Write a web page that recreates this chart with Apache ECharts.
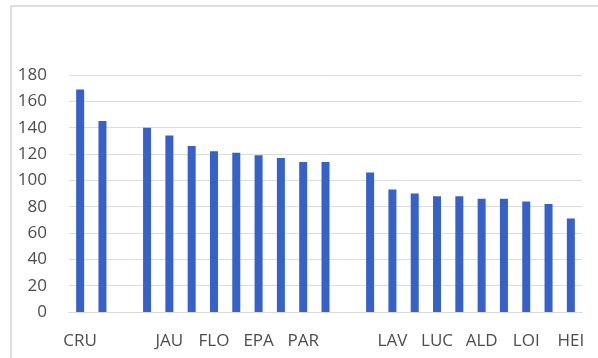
<!DOCTYPE html>
<html>
<head>
<meta charset="utf-8">
<script src="https://cdn.jsdelivr.net/npm/echarts@6/dist/echarts.min.js"></script>
<style>
  html, body { margin: 0; padding: 0; background: #ffffff; }
  #chart { width: 598px; height: 358px; }
</style>
</head>
<body>
<div id="chart"></div>
<script>
// Category codes; every other one is shown on the axis, blanks separate the groups
const categories = ['CRU', 'c1', '', 'c3', 'JAU', 'c5', 'FLO', 'c7', 'EPA', 'c9', 'PAR', 'c11',
                    '', 'c13', 'LAV', 'c15', 'LUC', 'c17', 'ALD', 'c19', 'LOI', 'c21', 'HEI'];
const values = [169, 145, null, 140, 134, 126, 122, 121, 119, 117, 114, 114,
                null, 106, 93, 90, 88, 88, 86, 86, 84, 82, 71];
const yTicks = { min: 0, max: 180, interval: 20 };

// Placeholder codes (c + number) are kept in the data but not printed
const isPlaceholder = v => /^c\d+$/.test(v);

const chart = echarts.init(document.getElementById('chart'), null, { renderer: 'canvas' });

chart.setOption({
  animation: false,
  backgroundColor: '#ffffff',
  graphic: [{
    type: 'rect',
    shape: { x: 11, y: 6, width: 700, height: 500 },
    style: { fill: 'none', stroke: '#d4d4d4', lineWidth: 1.5 },
    silent: true
  }],
  grid: { left: 69, right: 16, top: 75, bottom: 46, containLabel: false },
  xAxis: {
    type: 'category',
    data: categories,
    axisLine: { show: true, lineStyle: { color: '#d9d9d9' } },
    axisTick: { show: false },
    axisLabel: {
      interval: 1,
      formatter: v => isPlaceholder(v) ? '' : v,
      color: '#4d4d4d',
      fontFamily: 'Open Sans',
      fontSize: 17,
      margin: 21
    }
  },
  yAxis: {
    type: 'value',
    min: yTicks.min,
    max: yTicks.max,
    interval: yTicks.interval,
    axisLine: { show: false },
    axisTick: { show: false },
    splitLine: { lineStyle: { color: '#dcdcdc', width: 1 } },
    axisLabel: {
      color: '#4d4d4d',
      fontFamily: 'Open Sans',
      fontSize: 17,
      margin: 22
    }
  },
  series: [{
    type: 'bar',
    data: values,
    barWidth: 8,
    itemStyle: { color: '#3561c8' }
  }]
});
</script>
</body>
</html>
